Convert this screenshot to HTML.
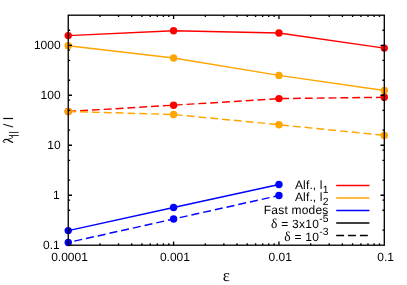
<!DOCTYPE html><html><head><meta charset="utf-8"><style>html,body{margin:0;padding:0;background:#fff}svg{display:block;opacity:0.999;will-change:transform}text{text-rendering:geometricPrecision;font-family:"Liberation Sans",sans-serif;font-size:12px;fill:#000}.ser{font-family:"Liberation Serif",serif}</style></head><body>
<svg width="407" height="285" viewBox="0 0 407 285">
<rect width="407" height="285" fill="#fff"/>
<polyline points="68.25,35.60 173.60,30.70 278.95,33.00 384.30,48.10" fill="none" stroke="#ff0000" stroke-width="1.45"/>
<circle cx="68.25" cy="35.60" r="3.7" fill="#ff0000"/>
<circle cx="173.60" cy="30.70" r="3.7" fill="#ff0000"/>
<circle cx="278.95" cy="33.00" r="3.7" fill="#ff0000"/>
<circle cx="384.30" cy="48.10" r="3.7" fill="#ff0000"/>
<polyline points="68.25,45.80 173.60,58.00 278.95,75.40 384.30,90.50" fill="none" stroke="#ffa500" stroke-width="1.45"/>
<circle cx="68.25" cy="45.80" r="3.7" fill="#ffa500"/>
<circle cx="173.60" cy="58.00" r="3.7" fill="#ffa500"/>
<circle cx="278.95" cy="75.40" r="3.7" fill="#ffa500"/>
<circle cx="384.30" cy="90.50" r="3.7" fill="#ffa500"/>
<polyline points="68.25,111.50 173.60,105.20 278.95,98.60 384.30,97.30" fill="none" stroke="#ff0000" stroke-width="1.45" stroke-dasharray="7.9 3.95" stroke-dashoffset="0"/>
<circle cx="68.25" cy="111.50" r="3.7" fill="#ff0000"/>
<circle cx="173.60" cy="105.20" r="3.7" fill="#ff0000"/>
<circle cx="278.95" cy="98.60" r="3.7" fill="#ff0000"/>
<circle cx="384.30" cy="97.30" r="3.7" fill="#ff0000"/>
<polyline points="68.25,111.50 173.60,114.50 278.95,124.70 384.30,135.40" fill="none" stroke="#ffa500" stroke-width="1.45" stroke-dasharray="7.9 3.95" stroke-dashoffset="0"/>
<circle cx="68.25" cy="111.50" r="3.7" fill="#ffa500"/>
<circle cx="173.60" cy="114.50" r="3.7" fill="#ffa500"/>
<circle cx="278.95" cy="124.70" r="3.7" fill="#ffa500"/>
<circle cx="384.30" cy="135.40" r="3.7" fill="#ffa500"/>
<polyline points="68.25,230.60 173.60,207.50 278.95,184.50" fill="none" stroke="#0000ff" stroke-width="1.45"/>
<circle cx="68.25" cy="230.60" r="3.7" fill="#0000ff"/>
<circle cx="173.60" cy="207.50" r="3.7" fill="#0000ff"/>
<circle cx="278.95" cy="184.50" r="3.7" fill="#0000ff"/>
<polyline points="68.25,242.50 173.60,219.00 278.95,195.50" fill="none" stroke="#0000ff" stroke-width="1.45" stroke-dasharray="8.0 4.0" stroke-dashoffset="5.8"/>
<circle cx="68.25" cy="242.50" r="3.7" fill="#0000ff"/>
<circle cx="173.60" cy="219.00" r="3.7" fill="#0000ff"/>
<circle cx="278.95" cy="195.50" r="3.7" fill="#0000ff"/>
<g stroke-width="1.33" fill="none">
<line x1="336.2" y1="185.5" x2="369.4" y2="185.5" stroke="#ff0000"/>
<line x1="336.2" y1="198.0" x2="369.4" y2="198.0" stroke="#ffa500"/>
<line x1="336.2" y1="210.5" x2="369.4" y2="210.5" stroke="#0000ff"/>
<line x1="336.2" y1="223.0" x2="369.4" y2="223.0" stroke="#000"/>
<line x1="336.2" y1="235.5" x2="369.4" y2="235.5" stroke="#000" stroke-dasharray="7.9 3.95"/>
</g>
<text x="328.6" y="188.7" text-anchor="end" letter-spacing="0.15">Alf., l<tspan dy="4.2" font-size="10.4px">1</tspan></text>
<text x="328.6" y="201.1" text-anchor="end" letter-spacing="0.15">Alf., l<tspan dy="4.2" font-size="10.4px">2</tspan></text>
<text x="328.5" y="214.0" text-anchor="end" letter-spacing="0.2">Fast modes</text>
<text x="328.90000000000003" y="227.9" text-anchor="end" letter-spacing="0.25"><tspan class="ser" font-size="13.5px">δ</tspan> = 3x10<tspan dy="-5.7" font-size="10.4px">-5</tspan></text>
<text x="328.90000000000003" y="241.0" text-anchor="end" letter-spacing="0.25"><tspan class="ser" font-size="13.5px">δ</tspan> = 10<tspan dy="-5.7" font-size="10.4px">-3</tspan></text>
<path d="M99.96 245.20v-1.90M99.96 15.20v1.90M118.51 245.20v-1.90M118.51 15.20v1.90M131.68 245.20v-1.90M131.68 15.20v1.90M141.89 245.20v-1.90M141.89 15.20v1.90M150.23 245.20v-1.90M150.23 15.20v1.90M157.28 245.20v-1.90M157.28 15.20v1.90M163.39 245.20v-1.90M163.39 15.20v1.90M168.78 245.20v-1.90M168.78 15.20v1.90M173.60 245.20v-3.80M173.60 15.20v3.80M205.31 245.20v-1.90M205.31 15.20v1.90M223.86 245.20v-1.90M223.86 15.20v1.90M237.03 245.20v-1.90M237.03 15.20v1.90M247.24 245.20v-1.90M247.24 15.20v1.90M255.58 245.20v-1.90M255.58 15.20v1.90M262.63 245.20v-1.90M262.63 15.20v1.90M268.74 245.20v-1.90M268.74 15.20v1.90M274.13 245.20v-1.90M274.13 15.20v1.90M278.95 245.20v-3.80M278.95 15.20v3.80M310.66 245.20v-1.90M310.66 15.20v1.90M329.21 245.20v-1.90M329.21 15.20v1.90M342.38 245.20v-1.90M342.38 15.20v1.90M352.59 245.20v-1.90M352.59 15.20v1.90M360.93 245.20v-1.90M360.93 15.20v1.90M367.98 245.20v-1.90M367.98 15.20v1.90M374.09 245.20v-1.90M374.09 15.20v1.90M379.48 245.20v-1.90M379.48 15.20v1.90M68.25 230.16h1.90M384.30 230.16h-1.90M68.25 210.27h1.90M384.30 210.27h-1.90M68.25 200.07h1.90M384.30 200.07h-1.90M68.25 195.22h3.80M384.30 195.22h-3.80M68.25 180.18h1.90M384.30 180.18h-1.90M68.25 160.29h1.90M384.30 160.29h-1.90M68.25 150.09h1.90M384.30 150.09h-1.90M68.25 145.24h3.80M384.30 145.24h-3.80M68.25 130.20h1.90M384.30 130.20h-1.90M68.25 110.31h1.90M384.30 110.31h-1.90M68.25 100.11h1.90M384.30 100.11h-1.90M68.25 95.27h3.80M384.30 95.27h-3.80M68.25 80.22h1.90M384.30 80.22h-1.90M68.25 60.33h1.90M384.30 60.33h-1.90M68.25 50.13h1.90M384.30 50.13h-1.90M68.25 45.29h3.80M384.30 45.29h-3.80M68.25 30.24h1.90M384.30 30.24h-1.90" stroke="#000" stroke-width="1.33" fill="none"/>
<rect x="68.25" y="15.2" width="316.05" height="230.0" fill="none" stroke="#000" stroke-width="1.33"/>
<text x="59.7" y="249.20" text-anchor="end">0.1</text>
<text x="59.7" y="199.22" text-anchor="end">1</text>
<text x="60.6" y="149.24" text-anchor="end">10</text>
<text x="60.6" y="99.27" text-anchor="end">100</text>
<text x="60.6" y="49.29" text-anchor="end">1000</text>
<text x="69.55" y="261.4" text-anchor="middle">0.0001</text>
<text x="174.90" y="261.4" text-anchor="middle">0.001</text>
<text x="280.25" y="261.4" text-anchor="middle">0.01</text>
<text x="385.60" y="261.4" text-anchor="middle">0.1</text>
<text class="ser" x="226.3" y="280.6" text-anchor="middle" style="font-size:17px">ε</text>
<g fill="none" stroke="#000" stroke-linecap="round" stroke-linejoin="round"><path d="M4.7,142.4C3.6,142.5 2.9,141.8 3.1,141.1C3.3,140.3 4.0,139.9 4.8,139.7" stroke-width="0.9"/><path d="M4.8,139.7C5.8,139.4 6.4,139.3 7.0,139.5C7.8,139.8 8.3,140.2 8.7,140.4L10.65,141.5L12.6,142.3" stroke-width="1.3"/><path d="M7.4,139.45C8.5,139.2 9.5,138.9 10.2,138.7C11.2,138.4 12.0,138.0 12.5,137.6C13.0,137.2 12.9,136.5 12.3,136.3C11.9,136.2 11.5,136.3 11.3,136.5" stroke-width="0.75"/></g>
<rect x="8.9" y="135.05" width="9.8" height="0.8" fill="#000"/><rect x="8.9" y="131.95" width="9.8" height="0.8" fill="#000"/>
<g transform="translate(12.8,143.2) rotate(-90)"><text x="15.7" y="0.2" style="font-size:13.5px">/</text><text x="23.3" y="0.2" style="font-size:13.5px">l</text></g>
</svg></body></html>
